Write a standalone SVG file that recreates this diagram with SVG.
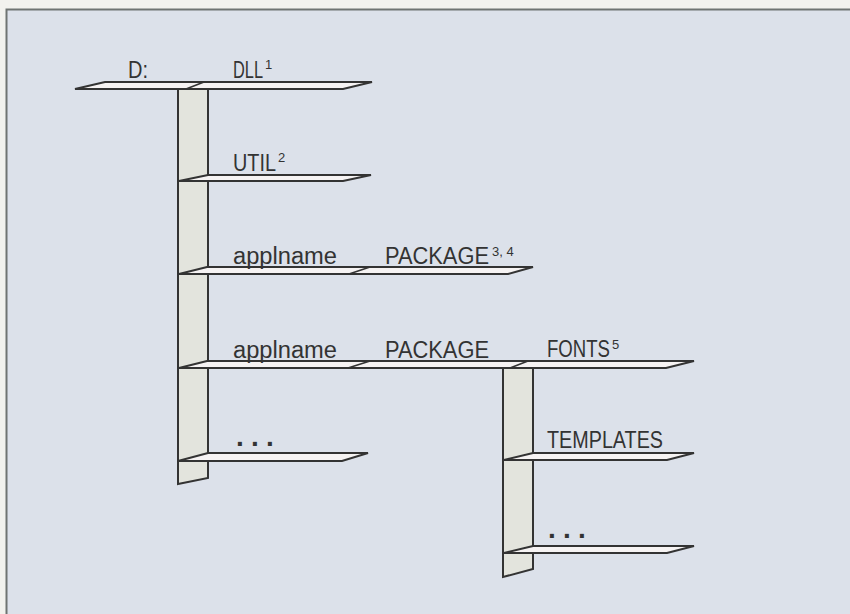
<svg xmlns="http://www.w3.org/2000/svg" width="850" height="614" viewBox="0 0 850 614">
<style>
.shelf{fill:#f6f3f3;stroke:#333;stroke-width:2;stroke-linejoin:miter}
.col{fill:#e3e4dd;stroke:#333;stroke-width:2}
.seam{stroke:#333;stroke-width:1.6;fill:none}
.t{font-family:"Liberation Sans",Arial,sans-serif;font-size:23px;fill:#333}
.sup{font-family:"Liberation Sans",Arial,sans-serif;font-size:13px;fill:#333}
.dots{font-family:"Liberation Sans",Arial,sans-serif;font-size:28px;font-weight:bold;fill:#333;letter-spacing:7.2px}
</style>
<rect x="0" y="0" width="850" height="614" fill="#f2f2ee"/>
<rect x="7" y="10" width="843" height="604" fill="#dce1ea"/>
<path d="M6.5 614 V9.5 H850" fill="none" stroke="#6f7472" stroke-width="2"/>
<g id="connectors">
<polygon id="col1" class="col" points="178,86 208,86 208,478 178,484"/>
<polygon id="col2" class="col" points="503,365 533,365 533,569 503,577"/>
</g>
<g id="node-root">
<polygon class="shelf" points="105,82 372,82 343,89 75,89"/>
<line class="seam" x1="186" y1="89" x2="204" y2="82"/>
<text class="t" x="128" y="78" textLength="20" lengthAdjust="spacingAndGlyphs">D:</text>
<text class="t" x="233" y="78" textLength="30" lengthAdjust="spacingAndGlyphs">DLL</text>
<text class="sup" x="265" y="69">1</text>
</g>
<g id="node-util">
<polygon class="shelf" points="208,175 371,175 343,181 179,181"/>
<text class="t" x="233" y="171" textLength="43" lengthAdjust="spacingAndGlyphs">UTIL</text>
<text class="sup" x="278" y="162">2</text>
</g>
<g id="node-package1">
<polygon class="shelf" points="207,267 533,267 508,274 179,274"/>
<line class="seam" x1="349" y1="274" x2="370" y2="267"/>
<text class="t" x="233" y="264" textLength="104" lengthAdjust="spacingAndGlyphs">applname</text>
<text class="t" x="385" y="264" textLength="104" lengthAdjust="spacingAndGlyphs">PACKAGE</text>
<text class="sup" x="492" y="256">3, 4</text>
</g>
<g id="node-package2">
<polygon class="shelf" points="207,361 694,361 666,368 179,368"/>
<line class="seam" x1="348" y1="368" x2="370" y2="361"/>
<line class="seam" x1="510" y1="368" x2="528" y2="361"/>
<text class="t" x="233" y="358" textLength="104" lengthAdjust="spacingAndGlyphs">applname</text>
<text class="t" x="385" y="358" textLength="104" lengthAdjust="spacingAndGlyphs">PACKAGE</text>
<text class="t" x="547" y="357" textLength="63" lengthAdjust="spacingAndGlyphs">FONTS</text>
<text class="sup" x="612" y="349">5</text>
</g>
<g id="node-more1">
<polygon class="shelf" points="208,453 368,453 342,461 178,461"/>
<text class="dots" x="236" y="446">...</text>
</g>
<g id="node-templates">
<polygon class="shelf" points="533,453 694,453 667,460 504,460"/>
<text class="t" x="547" y="448" textLength="116" lengthAdjust="spacingAndGlyphs">TEMPLATES</text>
</g>
<g id="node-more2">
<polygon class="shelf" points="533,546 694,546 667,553 504,553"/>
<text class="dots" x="548" y="538">...</text>
</g>
</svg>
